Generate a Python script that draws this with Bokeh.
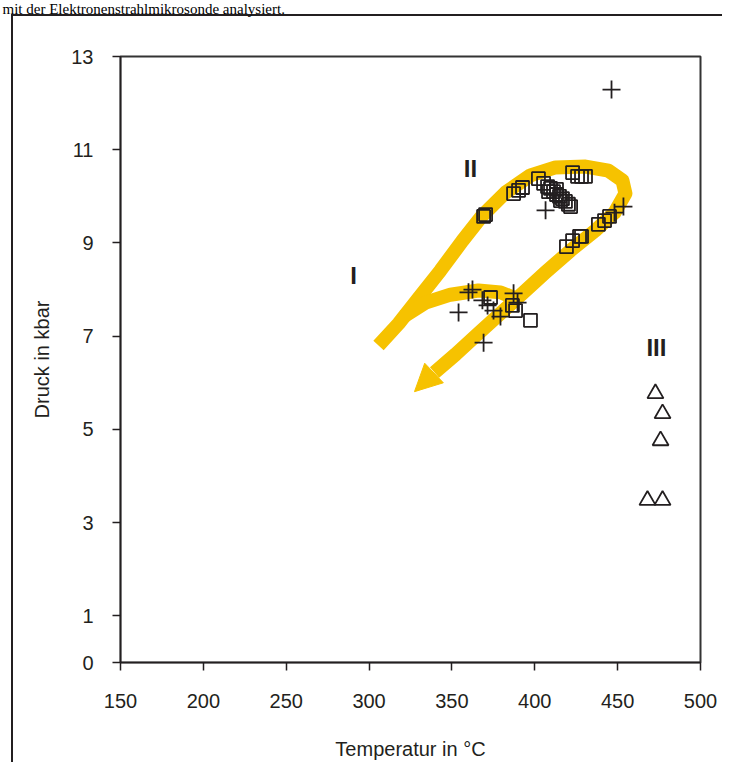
from bokeh.plotting import figure
from bokeh.models import Range1d, FixedTicker, Title, Arrow, NormalHead
from bokeh.core.properties import value
from bokeh.embed import file_html
from bokeh.resources import INLINE

# ---------------- data ----------------
x_ticks = [150, 200, 250, 300, 350, 400, 450, 500]
y_ticks = [0, 1, 3, 5, 7, 9, 11, 13]

cross_T = [446.3, 406.5, 448.1, 453.5, 354.0, 360.0, 362.4, 368.4, 371.5,
           375.1, 379.3, 387.2, 389.6, 369.1]
cross_P = [12.29, 9.70, 9.65, 9.78, 7.51, 7.94, 8.00, 7.77, 7.66,
           7.55, 7.42, 7.92, 7.72, 6.86]

square_T = [370.3, 369.1, 387.2, 390.2, 392.6, 402.2,
            405.3, 407.7, 409.5, 411.3, 413.1, 414.9, 416.7, 418.5, 420.3, 421.6,
            408.3, 413.1, 415.5,
            422.8, 425.8, 428.2, 430.6,
            419.1, 422.8, 427.0, 428.2,
            438.4, 442.1, 445.1,
            373.3, 386.5, 388.4, 397.4]
square_P = [9.61, 9.57, 10.06, 10.13, 10.19, 10.38,
            10.28, 10.21, 10.17, 10.10, 10.04, 10.00, 9.95, 9.89, 9.83, 9.78,
            10.10, 10.15, 9.91,
            10.51, 10.43, 10.43, 10.43,
            8.92, 9.05, 9.14, 9.14,
            9.40, 9.48, 9.57,
            7.83, 7.66, 7.55, 7.34]

tri_T = [472.8, 477.1, 475.9, 468.0, 477.1]
tri_P = [5.77, 5.34, 4.76, 3.48, 3.48]

zone_labels = ["I", "II", "III"]
zone_T = [290.6, 361.2, 473.4]
zone_P = [8.30, 10.60, 6.76]

# P-T path (yellow band)
path_T = [305.7, 317.8, 329.8, 343.1, 356.4, 368.4, 382.3, 397.4, 412.5, 430.6,
          444.5, 452.9, 454.7, 448.1, 436.6, 421.6, 406.5, 392.6, 379.3, 366.0,
          352.2, 339.5]
path_P = [6.80, 7.27, 7.81, 8.41, 9.05, 9.59, 10.08, 10.45, 10.62, 10.64,
          10.55, 10.34, 10.06, 9.65, 9.27, 8.84, 8.37, 7.92, 7.49, 7.06,
          6.61, 6.22]
loop_T = [320.8, 334.1, 349.1, 366.0, 379.3, 388.4]
loop_P = [7.42, 7.72, 7.89, 7.98, 7.94, 7.81]
arrow_start = (339.5, 6.22)
arrow_tip = (327.4, 5.81)

header_text = "mit der Elektronenstrahlmikrosonde analysiert."

# ---------------- figure ----------------
INK = "#231f20"
YELLOW = "#F6C200"

p = figure(width=722, height=762,
           x_range=Range1d(150, 500), y_range=Range1d(0, 13),
           output_backend="svg", toolbar_location=None,
           min_border_left=120, min_border_right=22,
           min_border_top=56, min_border_bottom=100)

p.background_fill_color = "white"
p.border_fill_alpha = 0
p.outline_line_color = "#333333"
p.outline_line_width = 2
p.xgrid.visible = False
p.ygrid.visible = False

# outer frame of the page figure (left and top edges)
p.styles = {
    "background-color": "white",
    "background-image": "linear-gradient(#231f20, #231f20), linear-gradient(#231f20, #231f20)",
    "background-size": "2px 100%, 100% 2px",
    "background-position": "11px 14px, 11px 14px",
    "background-repeat": "no-repeat",
}

# header line of the page (top of the picture, above the framed figure);
# the two empty lines lift it to the top edge of the page
p.title = Title(text=header_text + "\n\n", align="left", offset=-118, standoff=0,
                vertical_align="top", text_line_height=1.2,
                text_font="Liberation Serif", text_font_size="15px",
                text_font_style="normal", text_color="black")

for ax in (p.xaxis[0], p.yaxis[0]):
    ax.major_tick_out = 8
    ax.major_tick_in = 0
    ax.minor_tick_out = 0
    ax.minor_tick_in = 0
    ax.axis_line_color = INK
    ax.axis_line_width = 1.5
    ax.major_tick_line_color = INK
    ax.major_tick_line_width = 1.5
    ax.major_label_text_font = "Liberation Sans"
    ax.major_label_text_font_size = "20px"
    ax.major_label_text_color = INK
    ax.axis_label_text_font = "Liberation Sans"
    ax.axis_label_text_font_size = "20px"
    ax.axis_label_text_font_style = "normal"
    ax.axis_label_text_color = INK

p.xaxis.ticker = FixedTicker(ticks=x_ticks)
p.yaxis.ticker = FixedTicker(ticks=y_ticks)
p.xaxis.axis_label = "Temperatur in °C"
p.yaxis.axis_label = "Druck in kbar"
p.xaxis.major_label_standoff = 23
p.yaxis.major_label_standoff = 19
p.xaxis.axis_label_standoff = 27
p.yaxis.axis_label_standoff = 15

# yellow P-T path
p.line(path_T, path_P, line_color=YELLOW, line_width=14,
       line_cap="butt", line_join="round")
p.line(loop_T, loop_P, line_color=YELLOW, line_width=14,
       line_cap="butt", line_join="round")
p.add_layout(Arrow(end=NormalHead(size=27, fill_color=YELLOW, line_color=YELLOW,
                                  line_width=1),
                   x_start=arrow_start[0], y_start=arrow_start[1],
                   x_end=arrow_tip[0], y_end=arrow_tip[1],
                   line_alpha=0, line_width=1, line_color=YELLOW))

# markers
p.scatter(square_T, square_P, marker="square", size=13, fill_alpha=0,
          line_color=INK, line_width=1.8)
p.scatter(cross_T, cross_P, marker="cross", size=18,
          line_color=INK, line_width=1.8)
p.scatter(tri_T, tri_P, marker="triangle", size=16, fill_alpha=0,
          line_color=INK, line_width=1.8)

# zone labels
p.text(x=zone_T, y=zone_P, text=zone_labels, text_align="center",
       text_baseline="middle", text_font=value("Liberation Sans"),
       text_font_style="bold", text_font_size="24px", text_color=INK)

open("out.html", "w").write(file_html(p, INLINE))
